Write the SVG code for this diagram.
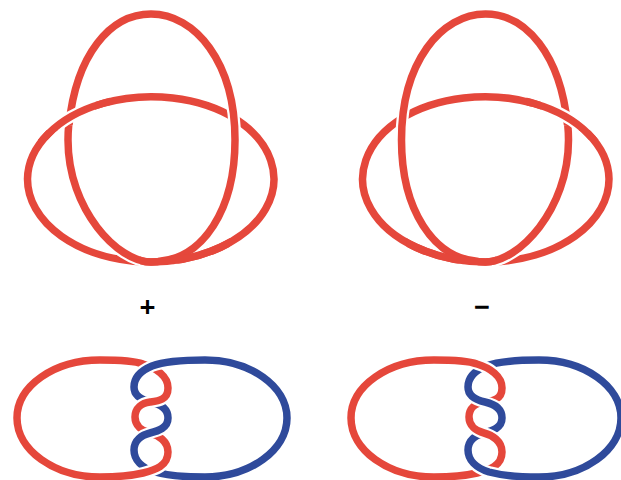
<svg xmlns="http://www.w3.org/2000/svg" width="621" height="480" viewBox="0 0 621 480">
  <style>
    path { fill: none; }
    .r { stroke: #e5473b; stroke-width: 7.500; }
    .rl { stroke: #e5473b; stroke-width: 7.500; }
    .b { stroke: #2f4a9b; stroke-width: 7.500; }
    .h { stroke: #fff; stroke-width: 12; }
    text { font-family: "Open Sans", "Liberation Sans", sans-serif; font-weight: 700; font-size: 28px; text-anchor: middle; fill: #000; }
  </style>
  <defs>
    <clipPath id="clipTopHalo"><rect x="45" y="85" width="50" height="45"/></clipPath>
    <clipPath id="clipTop"><rect x="20" y="85" width="90" height="55"/></clipPath>
    <clipPath id="clipBottom"><rect x="140" y="235" width="90" height="35"/></clipPath>
    <path id="arc3" d="M236,119 A124,83 0 0 0 27.500,179 A124,83 0 0 0 145,262"/>
    <path id="arc1" d="M234,118 A124,83 0 0 1 151,262 C118,262 68,210 68,140 Q68,125 71,108"/>
    <path id="arc2" d="M158,261.500 C203,258 235,210 235,140 C235,62 195,14 151,14 C110,14 76,55 69,125"/>
    <path id="redLoop" d="M100,360 C120,360 135,361 143,364 C156,368 168,376 168,388 C168,400 158,401 150,402 C142,403 135,408 135,417 C135,426 142,431 150,433 C158,435 168,441 168,452 C168,466 155,470 143,473 C130,476 115,477 100,477 C54,477 17,450 17,418 C17,386 54,360 100,360 Z"/>
    <path id="blueLoop" d="M205,360 C185,360 165,361 152,366 C140,371 134,378 134,387 C134,396 142,400 151,402 C160,404 168,408 168,418 C168,428 158,431 150,433 C142,435 134,440 134,450 C134,460 142,468 155,472 C170,476 190,477 205,477 C250,477 287,450 287,418 C287,386 250,360 205,360 Z"/>
    <path id="redS" d="M168,388 C168,400 158,401 150,402 C142,403 135,408 135,417"/>
    <path id="redBottom" d="M168,452 C168,466 155,470 143,473 C130,476 115,477 100,477"/>
    <path id="blueS" d="M134,387 C134,396 142,400 151,402 C160,404 168,408 168,418"/>
    <path id="blueBottom" d="M134,450 C134,460 142,468 155,472 C170,476 190,477 205,477"/>
    <g id="knot">
      <use href="#arc3" class="r"/>
      <use href="#arc1" class="h"/>
      <use href="#arc1" class="r"/>
      <use href="#arc2" class="h"/>
      <use href="#arc2" class="r"/>
      <g clip-path="url(#clipTopHalo)">
        <use href="#arc3" class="h"/>
      </g>
      <g clip-path="url(#clipTop)">
        <use href="#arc3" class="r"/>
      </g>
      <g clip-path="url(#clipBottom)">
        <use href="#arc1" class="r"/>
      </g>
    </g>
  </defs>
  <g id="knot-positive"><use href="#knot"/></g>
  <g id="knot-negative" transform="translate(636.500 0) scale(-1 1)"><use href="#knot"/></g>
  <g id="label-positive"><text x="147.500" y="317">+</text></g>
  <g id="label-negative"><text x="482" y="317">−</text></g>
  <g id="link-positive">
    <use href="#redLoop" class="rl"/>
    <use href="#blueLoop" class="h"/>
    <use href="#blueLoop" class="b"/>
    <use href="#redS" class="h"/>
    <use href="#redS" class="rl"/>
    <use href="#redBottom" class="h"/>
    <use href="#redBottom" class="rl"/>
  </g>
  <g id="link-negative" transform="translate(334 0)">
    <use href="#blueLoop" class="b"/>
    <use href="#redLoop" class="h"/>
    <use href="#redLoop" class="rl"/>
    <use href="#blueS" class="h"/>
    <use href="#blueS" class="b"/>
    <use href="#blueBottom" class="h"/>
    <use href="#blueBottom" class="b"/>
  </g>
</svg>
